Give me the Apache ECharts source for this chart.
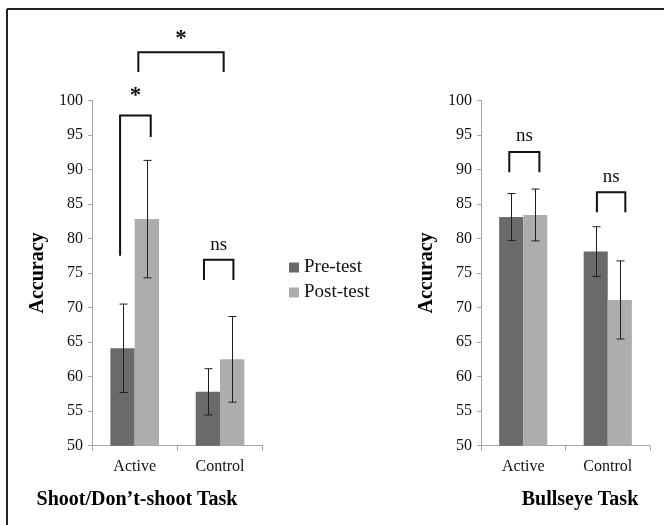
<!DOCTYPE html>
<html><head><meta charset="utf-8">
<script src="https://cdn.jsdelivr.net/npm/echarts@6/dist/echarts.min.js"></script>
<style>html,body{margin:0;padding:0;background:#fff}#c{width:664px;height:525px}</style>
</head><body><div id="c"></div>
<script>
// ---- data ----
const categories = ['Active', 'Control'];
const seriesNames = ['Pre-test', 'Post-test'];
const shootPre = [64.1, 57.8];
const shootPost = [82.8, 62.5];
const shootPreErr = [6.4, 3.35];
const shootPostErr = [8.5, 6.2];
const bullPre = [83.1, 78.1];
const bullPost = [83.4, 71.1];
const bullPreErr = [3.4, 3.6];
const bullPostErr = [3.75, 5.65];
const yMin = 50, yMax = 100, yStep = 5;
const panelTitles = ['Shoot/Don\u2019t-shoot Task', 'Bullseye Task'];
const yAxisTitle = 'Accuracy';
// significance brackets: [cat1, slot1, cat2, slot2, topY, leg1Y, leg2Y, labelY]
const shootSig = [
  [0, -0.1, 0, 1.16, 97.8, 77.5, 94.7, 101.4],
  [0, 0.65, 1, 0.65, 106.95, 104.1, 104.1, 109.6],
  [1, -0.16, 1, 1.05, 76.9, 74.0, 74.0, 79.1]
];
const shootSigLabels = ['*', '*', 'ns'];
const bullSig = [
  [0, -0.08, 0, 1.17, 92.5, 89.6, 89.6, 94.8],
  [1, 0.05, 1, 1.23, 86.7, 83.8, 83.8, 88.9]
];
const bullSigLabels = ['ns', 'ns'];

// ---- styling ----
const SERIF = '"Liberation Serif", "Times New Roman", serif';
const BAR_GAP_CAT = 0.43;
const preColor = '#6a6a6a', postColor = '#adadad';
const axisGray = '#a6a6a6';

function errData(vals, errs, slot) {
  return vals.map((v, i) => [i, slot, v, errs[i]]);
}
function errRender(params, api) {
  const cat = api.value(0), slot = api.value(1), v = api.value(2), e = api.value(3);
  const c = api.coord([cat, v]);
  const bw = api.size([1, 0])[0];
  const barW = bw * (1 - BAR_GAP_CAT) / 2;
  const x = Math.round(c[0] + (slot - 0.5) * barW) + 0.5;
  const yHi = api.coord([cat, v + e])[1], yLo = api.coord([cat, v - e])[1];
  const cap = 4;
  const st = { stroke: '#1e1e1e', lineWidth: 1 };
  return { type: 'group', children: [
    { type: 'line', shape: { x1: x, y1: yHi, x2: x, y2: yLo }, style: st },
    { type: 'line', shape: { x1: x - cap, y1: yHi, x2: x + cap, y2: yHi }, style: st },
    { type: 'line', shape: { x1: x - cap, y1: yLo, x2: x + cap, y2: yLo }, style: st }
  ]};
}
function sigRender(labels) {
  return function (params, api) {
    const bw = api.size([1, 0])[0];
    const barW = bw * (1 - BAR_GAP_CAT) / 2;
    const px = (cat, slot) => api.coord([cat, yMin])[0] + (slot - 0.5) * barW;
    const x1 = px(api.value(0), api.value(1));
    const x2 = px(api.value(2), api.value(3));
    const yt = api.coord([0, api.value(4)])[1];
    const y1 = api.coord([0, api.value(5)])[1];
    const y2 = api.coord([0, api.value(6)])[1];
    const yl = api.coord([0, api.value(7)])[1];
    const lab = labels[params.dataIndex];
    const star = lab === '*';
    return { type: 'group', children: [
      { type: 'polyline', shape: { points: [[x1, y1], [x1, yt], [x2, yt], [x2, y2]] },
        style: { stroke: '#111', lineWidth: 2, fill: null } },
      { type: 'text', x: (x1 + x2) / 2, y: yl + (star ? 5 : 0),
        style: { text: lab, textAlign: 'center', textVerticalAlign: 'middle',
                 font: (star ? 'bold 23px ' : '19px ') + SERIF, fill: '#111' } }
    ]};
  };
}

const grids = [
  { left: 92, top: 100.3, width: 170.7, height: 345.4 },
  { left: 481, top: 100.3, width: 169, height: 345.4 }
];
const xAxes = grids.map((g, i) => ({
  type: 'category', gridIndex: i, data: categories,
  axisLine: { lineStyle: { color: axisGray, width: 1 } },
  axisTick: { show: true, length: 5, interval: 0, alignWithLabel: false, lineStyle: { color: axisGray } },
  axisLabel: { color: '#111', fontFamily: SERIF, fontSize: 16, margin: 13 }
}));
const yAxes = grids.map((g, i) => ({
  type: 'value', gridIndex: i, min: yMin, max: yMax, interval: yStep,
  name: yAxisTitle, nameLocation: 'middle', nameGap: 44, nameRotate: 90,
  nameTextStyle: { fontFamily: SERIF, fontSize: 20, fontWeight: 'bold', color: '#000' },
  axisLine: { show: true, lineStyle: { color: axisGray, width: 1 } },
  axisTick: { show: true, length: 4, lineStyle: { color: axisGray } },
  splitLine: { show: false },
  axisLabel: { color: '#111', fontFamily: SERIF, fontSize: 16, margin: 9 }
}));

const panels = [
  { pre: shootPre, post: shootPost, preE: shootPreErr, postE: shootPostErr, sig: shootSig, sigL: shootSigLabels },
  { pre: bullPre, post: bullPost, preE: bullPreErr, postE: bullPostErr, sig: bullSig, sigL: bullSigLabels }
];
const series = [];
panels.forEach((p, i) => {
  series.push({ name: seriesNames[0], type: 'bar', xAxisIndex: i, yAxisIndex: i, data: p.pre,
    itemStyle: { color: preColor }, barGap: '0%', barCategoryGap: (BAR_GAP_CAT * 100) + '%' });
  series.push({ name: seriesNames[1], type: 'bar', xAxisIndex: i, yAxisIndex: i, data: p.post,
    itemStyle: { color: postColor }, barGap: '0%', barCategoryGap: (BAR_GAP_CAT * 100) + '%' });
  series.push({ type: 'custom', xAxisIndex: i, yAxisIndex: i, renderItem: errRender,
    data: errData(p.pre, p.preE, 0).concat(errData(p.post, p.postE, 1)),
    encode: { x: 0, y: 2 }, clip: false, z: 5, silent: true });
  series.push({ type: 'custom', xAxisIndex: i, yAxisIndex: i, renderItem: sigRender(p.sigL),
    data: p.sig, encode: { x: 0, y: 4 }, clip: false, z: 6, silent: true });
});

const chart = echarts.init(document.getElementById('c'), null, { renderer: 'canvas' });
chart.setOption({
  animation: false,
  backgroundColor: '#fff',
  grid: grids,
  xAxis: xAxes,
  yAxis: yAxes,
  legend: {
    data: seriesNames, orient: 'vertical', left: 289, top: 258, padding: 0,
    itemWidth: 10, itemHeight: 10, itemGap: 6, icon: 'rect',
    textStyle: { fontFamily: SERIF, fontSize: 19, color: '#111' }
  },
  graphic: [
    { type: 'line', shape: { x1: 7, y1: 9, x2: 664, y2: 9 }, style: { stroke: '#222', lineWidth: 2 } },
    { type: 'line', shape: { x1: 7, y1: 9, x2: 7, y2: 525 }, style: { stroke: '#222', lineWidth: 2 } },
    { type: 'text', x: 137, y: 500, style: { text: panelTitles[0], textAlign: 'center', textVerticalAlign: 'middle',
      font: 'bold 20px ' + SERIF, fill: '#000' } },
    { type: 'text', x: 580, y: 500, style: { text: panelTitles[1], textAlign: 'center', textVerticalAlign: 'middle',
      font: 'bold 20px ' + SERIF, fill: '#000' } }
  ],
  series: series
});
</script></body></html>
